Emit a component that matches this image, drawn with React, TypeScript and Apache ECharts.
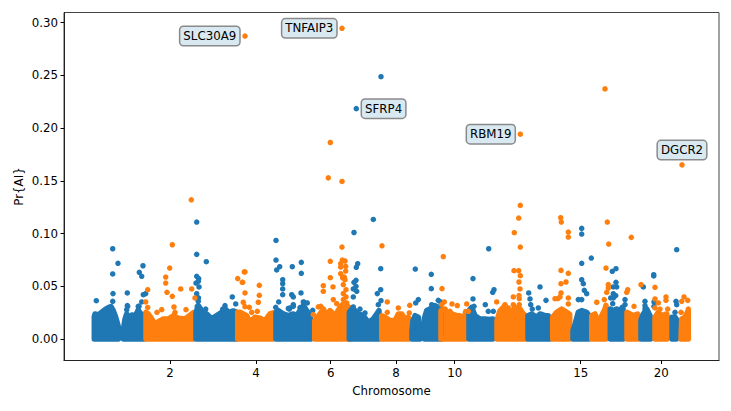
import React, { useEffect, useRef } from "react";
import * as echarts from "echarts";

const BLUE = "#1f77b4";
const ORANGE = "#ff7f0e";

const chromosomeLabels = ["2", "4", "6", "8", "10", "15", "20"];
const chromosomeTicks = [106, 192, 266.7, 332, 390.7, 516.7, 597.3];
const yTicks = [0, 0.05, 0.1, 0.15, 0.2, 0.25, 0.3];

// Upper outline of each chromosome's dense mass of points [position, Pr{AI}]
const chr1a = [[30.3,0],[30.3,0.021],[31,0.0238],[34.3,0.0229],[37.7,0.0254],[41,0.0279],[44.3,0.0298],[47,0.0308],[49.3,0.027],[51.7,0.0207],[54.3,0.012],[54.3,0],[30.3,0]];
const chr1b = [[59.5,0],[59.5,0.0096],[61,0.019],[62.7,0.0238],[64.3,0.0207],[67.7,0.0229],[71,0.0222],[74.3,0.027],[77,0.0238],[80,0.023],[80,0],[59.5,0]];
const chr2 = [[82,0],[82,0.0254],[84.3,0.0238],[87.7,0.0191],[91,0.0143],[94.3,0.0165],[99.3,0.019],[104.3,0.019],[109.3,0.0222],[114.3,0.0197],[121,0.019],[127.7,0.0238],[129.3,0.025],[129.3,0],[82,0]];
const chr3 = [[132,0],[132,0.0254],[134.3,0.0317],[137.7,0.027],[142.7,0.0238],[147.7,0.0191],[152.7,0.0222],[157.7,0.0254],[161,0.029],[164.3,0.0254],[169.3,0.0267],[172.6,0.0254],[172.6,0],[132,0]];
const chr4 = [[173.7,0],[173.7,0.0254],[176,0.0254],[179.3,0.0238],[182.7,0.0222],[186,0.016],[191,0.0207],[196,0.0197],[201,0.0175],[206,0.0238],[209,0.0248],[209,0],[173.7,0]];
const chr5 = [[212,0],[212,0.0254],[214.3,0.027],[219.3,0.0238],[224.3,0.0222],[229.3,0.0238],[232.7,0.0222],[236,0.027],[239.3,0.0317],[242.7,0.027],[246,0.0222],[247,0.0175],[247,0],[212,0]];
const chr6 = [[250.7,0],[250.7,0.0175],[256,0.0238],[259.3,0.0285],[262.7,0.0222],[266,0.027],[271,0.0222],[276,0.03],[279.3,0.0333],[282.7,0.0317],[285.3,0.03],[285.3,0],[250.7,0]];
const chr7 = [[285.3,0],[285.3,0.0254],[287.7,0.0285],[291,0.027],[294.3,0.0238],[299.3,0.0222],[304.3,0.0159],[309.3,0.0191],[312.7,0.0238],[315,0.027],[315,0],[285.3,0]];
const chr8 = [[317.7,0],[317.7,0.0222],[321,0.0207],[326,0.0175],[331,0.0175],[334.3,0.0238],[337.7,0.0238],[341,0.019],[344.3,0.0207],[345,0.018],[345,0],[317.7,0]];
const chr9a = [[348,0],[348,0.008],[349,0.0175],[351,0.0222],[354.3,0.0207],[356,0.012],[356,0],[348,0]];
const chr9b = [[360.5,0],[360.5,0.02],[362.7,0.027],[366,0.0285],[371,0.0317],[374.3,0.0301],[377,0.0285],[377,0],[360.5,0]];
const chr10 = [[377,0],[377,0.027],[381,0.0285],[384.3,0.0238],[387.7,0.0238],[392.7,0.0222],[396,0.0222],[399.3,0.0159],[401.7,0.026],[401.7,0],[377,0]];
const chr11 = [[405,0],[405,0.027],[407.7,0.0301],[411,0.0222],[416,0.019],[421,0.019],[426,0.0185],[428.7,0.019],[428.7,0],[405,0]];
const chr12 = [[433,0],[433,0.0175],[436,0.027],[441,0.0317],[446,0.0238],[451,0.0301],[456,0.0285],[459.3,0.0238],[462,0.022],[462,0],[433,0]];
const chr13 = [[464,0],[464,0.0222],[467.7,0.0238],[472.7,0.0207],[476,0.0238],[481,0.0222],[484.3,0.0222],[486,0.019],[486,0],[464,0]];
const chr14 = [[488.7,0],[488.7,0.0207],[492.7,0.0254],[497.7,0.0285],[502.7,0.0254],[505.7,0.0235],[505.7,0],[488.7,0]];
const chr15 = [[509,0],[509,0.008],[511,0.014],[514.3,0.0254],[517.7,0.027],[522.7,0.0254],[525,0.0222],[525,0],[509,0]];
const chr16 = [[527.7,0],[527.7,0.0222],[531,0.0238],[534.3,0.0159],[537.7,0.0222],[541,0.0285],[542,0.032],[542,0],[527.7,0]];
const chr17 = [[546.3,0],[546.3,0.0285],[549.3,0.027],[552.7,0.0285],[556,0.027],[558.3,0.0301],[559,0.029],[559,0],[546.3,0]];
const chr18 = [[563,0],[563,0.0254],[566,0.0238],[569.3,0.0222],[573.7,0.0238],[574,0.023],[574,0],[563,0]];
const chr19 = [[577,0],[577,0.018],[579.3,0.0238],[582.7,0.0285],[586,0.0222],[586.5,0.02],[586.5,0],[577,0]];
const chr20 = [[591,0],[591,0.0207],[594.3,0.0254],[597.7,0.0222],[602.7,0.0238],[603,0.023],[603,0],[591,0]];
const chr21 = [[608,0],[608,0.0207],[611,0.0207],[612.3,0.019],[612.3,0],[608,0]];
const chr22 = [[617,0],[617.7,0.0191],[621,0.0207],[624.3,0.027],[624.3,0],[617,0]];

const chromosomes = [chr1a, chr1b, chr2, chr3, chr4, chr5, chr6, chr7, chr8, chr9a, chr9b, chr10, chr11, chr12, chr13, chr14, chr15, chr16, chr17, chr18, chr19, chr20, chr21, chr22];
const chromosomeColours = [BLUE, BLUE, ORANGE, BLUE, ORANGE, BLUE, ORANGE, BLUE, ORANGE, BLUE, BLUE, ORANGE, BLUE, ORANGE, BLUE, ORANGE, BLUE, ORANGE, BLUE, ORANGE, BLUE, ORANGE, BLUE, ORANGE];

const blueOutliers = [
  [132.7,0.1109],[132.7,0.0803],[142.3,0.0733],[48.7,0.0856],[54,0.0718],[48.7,0.0617],[79,0.0695],[75.3,0.0633],[77.7,0.0595],[132.7,0.0595],[134.7,0.0573],
  [132,0.0531],[135,0.0494],[134.3,0.0547],[132.7,0.043],[134.5,0.039],[168.3,0.0399],[171.7,0.0333],[32.3,0.0364],[49,0.0431],[48.7,0.0358],[63.3,0.0437],[63.3,0.0317],[79.3,0.0421],[81.7,0.0431],[74.3,0.031],[141.7,0.0285],[161,0.0317],
  [132.7,0.039],[134.3,0.0358],[133.3,0.031],[158.7,0.0285],[63.7,0.031],[62.7,0.0279],[75,0.031],[74.3,0.0279],[77.7,0.0352],
  [317,0.2487],[309.3,0.1134],[290,0.101],[212,0.0935],[212,0.0749],[212.7,0.0655],[215.7,0.0686],[228.3,0.0686],[237.3,0.0727],[237.3,0.0623],[218.7,0.0563],[293.7,0.0714],[292.3,0.068],[316.7,0.0667],[292,0.0557],
  [218.7,0.0525],[218.7,0.0475],[218.7,0.0421],[214.7,0.0352],[211.7,0.0301],[227.7,0.0421],[229.3,0.0399],[229.3,0.0326],[237,0.0437],[239.3,0.0352],[243.3,0.0342],[248.7,0.0273],[225.3,0.0285],
  [226,0.0295],[229.3,0.031],[240.3,0.0348],[224.3,0.029],[236,0.0298],
  [290,0.0538],[292,0.05],[289.3,0.0475],[292.7,0.0453],[289.3,0.0399],[289.3,0.0304],[296,0.0285],[301,0.0248],[316.7,0.0468],[313.3,0.0431],[317,0.0364],[314.3,0.0326],
  [424.7,0.0856],[351.3,0.0664],[367.3,0.0614],[409,0.0573],[367.3,0.0478],[409,0.038],[430,0.0468],[428.7,0.0443],[354.3,0.0374],[351.7,0.0342],[367.7,0.0326],[374.3,0.0367],[376.7,0.0352],[410,0.0311],[421.3,0.0326],[424.3,0.0263],[429.3,0.0263],
  [464.7,0.0437],[466,0.038],[466.7,0.0326],[468.3,0.0285],[476,0.0494],[482,0.0367],[474.3,0.0295],
  [517.7,0.1049],[517.7,0.0995],[527.3,0.0768],[517.7,0.0718],[612.7,0.0847],[552,0.0667],[548.3,0.0642],[589.7,0.061],[589.7,0.0598],[517.7,0.0563],
  [519.3,0.0525],[520.3,0.0462],[522.7,0.043],[514.3,0.0374],[517.7,0.0374],[552,0.0538],[552.7,0.0494],[549.3,0.0494],[549.3,0.043],[551.7,0.0412],[546.7,0.039],[549.3,0.039],[548.7,0.0336],[561,0.0374],[561,0.0326],[579.3,0.0494],[581,0.0358],[581,0.0317],[581,0.0285],[590,0.0352],[590,0.0311],[612,0.0358],[612.7,0.0326],[611,0.0254],
];

const orangeOutliers = [
  [127.3,0.132],[108.3,0.0894],[105.7,0.0673],[101.7,0.0588],[173.7,0.0573],[180.3,0.0636],
  [101.7,0.0531],[103,0.0443],[108.3,0.0405],[116.7,0.0475],[127.7,0.0475],[83.7,0.0468],[131,0.039],[81.7,0.0352],[110,0.0304],[93,0.0254],[97.7,0.0279],[122,0.0279],[178.3,0.0538],
  [111,0.0254],[83.7,0.03],[181,0.0307],[254.3,0.0305],
  [266.3,0.1863],[264.3,0.1528],[278,0.1494],[278,0.0872],[318,0.0884],[266.3,0.0737],[276.7,0.0714],[276.7,0.0683],[278.3,0.0749],[281,0.074],[281.7,0.0689],[281.7,0.0645],[276.7,0.062],[278.7,0.0588],[280.3,0.0588],[266.3,0.0582],[181,0.0636],
  [178.7,0.0538],[181,0.0437],[179.3,0.0349],[185.3,0.0301],[187.7,0.0254],[195.3,0.0509],[195.3,0.0415],[194.3,0.0349],[193.3,0.0263],
  [259.3,0.0506],[259.3,0.0453],[269,0.0494],[269.3,0.0374],[272.7,0.0336],[256.7,0.0311],[278.7,0.0579],[281,0.0563],[279.3,0.0516],[282,0.0468],[279.3,0.0431],[282,0.0399],[279.3,0.0374],[282.7,0.0342],[249.3,0.0232],
  [323.3,0.0352],[323.3,0.0254],[334.3,0.0295],
  [456.3,0.1267],[454.7,0.1147],[450.3,0.1008],[456.3,0.0872],[450,0.0648],[454.7,0.0648],[456.3,0.0601],[379.3,0.0781],
  [378,0.0478],[380.3,0.0352],[377.7,0.0326],[345.7,0.032],[345.3,0.0248],[388,0.0333],[393.3,0.0317],[386,0.0263],[402.7,0.0333],[404.3,0.0263],[432.7,0.0352],[441,0.0326],[444.3,0.0295],
  [455,0.0541],[456,0.0475],[455,0.0412],[449.3,0.0399],[455.3,0.0383],[449.3,0.0326],[455.3,0.0326],
  [541,0.2371],[496.7,0.115],[497.3,0.1109],[504.3,0.1014],[504.3,0.0967],[543.3,0.1109],[544.7,0.0901],[567.3,0.0964],[497,0.0651],[504.3,0.0623],[542,0.0673],
  [497,0.0525],[502,0.0541],[497,0.0437],[496,0.0399],[491,0.0383],[493.7,0.0383],[504.3,0.039],[504.3,0.0333],[532.7,0.0349],[542.7,0.0443],[544.3,0.0516],[544.3,0.0484],[540.3,0.0374],
  [563.7,0.0468],[562.7,0.0443],[570,0.0311],[577,0.0516],[591,0.0491],[591,0.038],[594.3,0.0342],[591,0.0295],[602,0.0399],[602,0.0367],[603.7,0.0285],[596,0.0285],[620,0.0399],[623.7,0.0367],[617.7,0.0358],[617,0.0254],[624.3,0.0285],
];

const geneNames = ["SLC30A9", "TNFAIP3", "SFRP4", "RBM19", "DGCR2"];
const genePositions = [181, 278, 292.3, 456.3, 618];
const geneValues = [0.2872, 0.2945, 0.2184, 0.1942, 0.1651];
const geneColours = [ORANGE, ORANGE, BLUE, ORANGE, ORANGE];
const geneLabelSides = ["left", "left", "right", "left", "top"];

const FONT = "DejaVu Sans";
const FONT_SIZE = 11.8;
const DOT = 5.5;

export default function App() {
  const ref = useRef<HTMLDivElement>(null);
  useEffect(() => {
    const chart = echarts.init(ref.current!, undefined, { renderer: "svg" });
    const massSeries = chromosomes.map((points, i) => ({
      type: "line",
      data: points,
      showSymbol: false,
      symbol: "none",
      silent: true,
      clip: false,
      z: 2,
      lineStyle: { color: chromosomeColours[i], width: DOT, cap: "round", join: "round" },
      itemStyle: { color: chromosomeColours[i] },
      areaStyle: { color: chromosomeColours[i], opacity: 1, origin: 0 },
    }));
    chart.setOption({
      animation: false,
      backgroundColor: "#ffffff",
      grid: { left: 64, top: 12.5, width: 655, height: 348, outerBoundsMode: "none", show: true, borderColor: "#444", borderWidth: 1, backgroundColor: "transparent" },
      xAxis: {
        type: "value",
        min: 0,
        max: 655,
        name: "Chromosome",
        nameLocation: "middle",
        nameGap: 24,
        nameTextStyle: { fontFamily: FONT, fontSize: FONT_SIZE, color: "#000" },
        splitLine: { show: false },
        axisLine: { show: true, onZero: false, lineStyle: { color: "#222", width: 1 } },
        axisTick: { show: true, length: 3.5, customValues: chromosomeTicks, lineStyle: { color: "#000" } },
        axisLabel: {
          show: true,
          customValues: chromosomeTicks,
          margin: 6,
          fontFamily: FONT,
          fontSize: FONT_SIZE,
          color: "#000",
          formatter: (v: number) => {
            const i = chromosomeTicks.findIndex((t) => Math.abs(t - v) < 0.01);
            return i >= 0 ? chromosomeLabels[i] : "";
          },
        },
      },
      yAxis: {
        type: "value",
        min: -0.0203,
        max: 0.3095,
        name: "Pr{AI}",
        nameLocation: "middle",
        nameGap: 39,
        nameMoveOverlap: false,
        nameTextStyle: { fontFamily: FONT, fontSize: FONT_SIZE, color: "#000" },
        splitLine: { show: false },
        axisLine: { show: true, lineStyle: { color: "#222", width: 1 } },
        axisTick: { show: true, length: 3.5, customValues: yTicks, lineStyle: { color: "#000" } },
        axisLabel: {
          show: true,
          customValues: yTicks,
          margin: 6,
          fontFamily: FONT,
          fontSize: FONT_SIZE,
          color: "#000",
          formatter: (v: number) => v.toFixed(2),
        },
      },
      series: [
        ...massSeries,
        { type: "scatter", data: blueOutliers, symbolSize: DOT, itemStyle: { color: BLUE, opacity: 1 }, z: 3, silent: true },
        { type: "scatter", data: orangeOutliers, symbolSize: DOT, itemStyle: { color: ORANGE, opacity: 1 }, z: 3, silent: true },
        {
          type: "scatter",
          symbolSize: DOT,
          z: 4,
          silent: true,
          data: geneNames.map((name, i) => ({
            name,
            value: [genePositions[i], geneValues[i]],
            itemStyle: { color: geneColours[i], opacity: 1 },
            label: {
              show: true,
              position: geneLabelSides[i],
              distance: 3,
              formatter: name,
              fontFamily: FONT,
              fontSize: FONT_SIZE,
              color: "#000",
              backgroundColor: "#d9e9f1",
              borderColor: "#8a8a8a",
              borderWidth: 1.5,
              borderRadius: 3,
              padding: [3, 3, 3, 3],
            },
          })),
        },
      ],
    });
    return () => chart.dispose();
  }, []);
  return <div ref={ref} style={{ position: "absolute", left: 0, top: 0, width: 731, height: 411 }} />;
}
